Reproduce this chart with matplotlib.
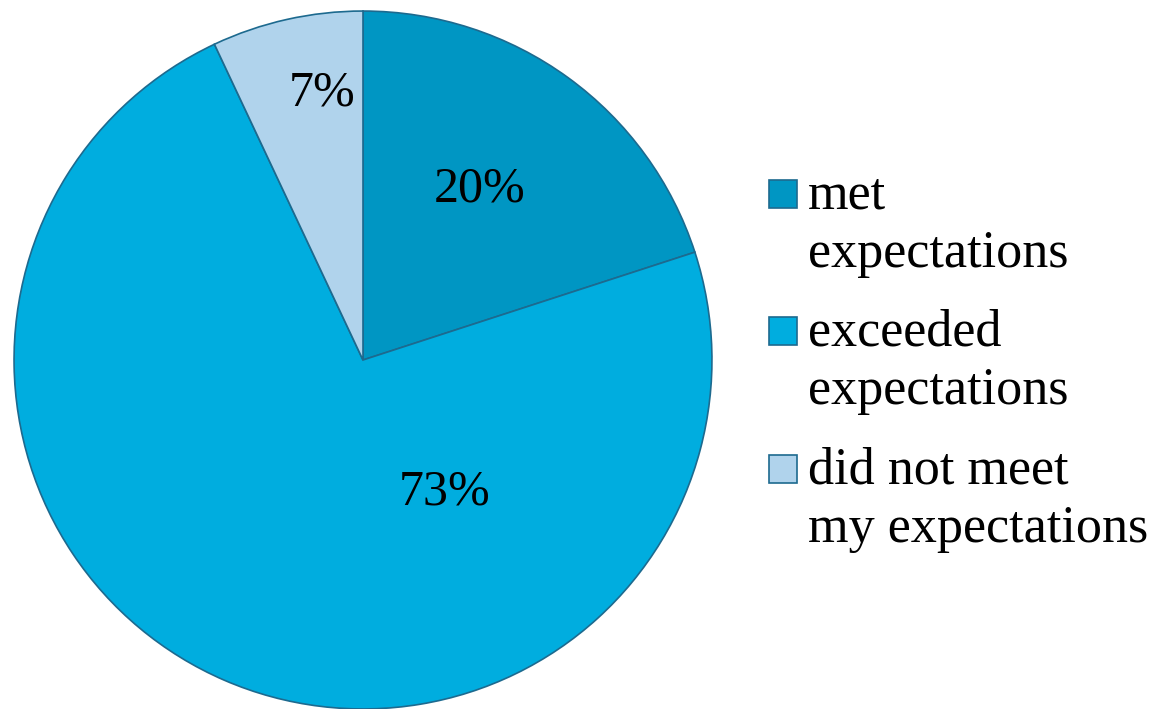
import matplotlib.pyplot as plt
from matplotlib.patches import Rectangle

# --- data ---
labels = ['met\nexpectations', 'exceeded\nexpectations', 'did not meet\nmy expectations']
values = [20, 73, 7]
colors = ['#0096c3', '#00addf', '#b0d3ec']
edge = '#1d6a8f'
# where the percent labels sit (pie data coords, radius 1)
label_pos = [(0.335, 0.49), (0.235, -0.38), (-0.117, 0.765)]

W, H = 1152, 709
fig = plt.figure(figsize=(W / 100, H / 100), dpi=100)
fig.patch.set_facecolor('white')

# pie axes: circle spans x 13..713, y 10..710 (px from top)
r_px = 350
cx, cy = 363, 360
ax = fig.add_axes([(cx - r_px) / W, (H - cy - r_px) / H, 2 * r_px / W, 2 * r_px / H])
wedges, _ = ax.pie(values, colors=colors, startangle=90, counterclock=False,
                   radius=1.0,
                   wedgeprops=dict(edgecolor=edge, linewidth=1.2))
ax.set_xlim(-1.003, 1.003)
ax.set_ylim(-1.003, 1.003)
ax.set_aspect('equal')
ax.axis('off')

font = ['Liberation Serif', 'DejaVu Serif']
for v, (x, y) in zip(values, label_pos):
    ax.text(x, y, f'{v}%', ha='center', va='center', fontsize=36,
            family=font, color='black')

# --- legend drawn by hand so the square lines up with the first line ---
sq = 28
tops = [180, 317, 455]
for lab, col, top in zip(labels, colors, tops):
    fig.patches.append(Rectangle((769 / W, (H - top - sq) / H), sq / W, sq / H,
                                 transform=fig.transFigure, facecolor=col,
                                 edgecolor=edge, linewidth=1.2))
    # baseline of the last line: first baseline (top + 32) plus one line (55 px)
    fig.text(808 / W, (H - top - 32 - 55) / H, lab, ha='left', va='baseline',
             fontsize=37.5, family=font, linespacing=1.29, color='black')

fig.savefig('out.png', dpi=100)
